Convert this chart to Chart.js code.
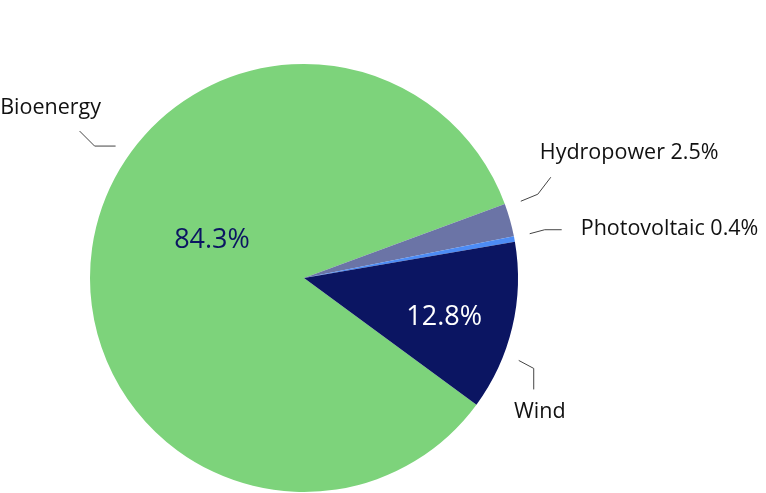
<!DOCTYPE html>
<html>
<head>
<meta charset="utf-8">
<script src="https://cdn.jsdelivr.net/npm/chart.js@4.4.1/dist/chart.umd.min.js"></script>
<style>
  html, body { margin: 0; padding: 0; background: #fff; }
  #wrap { width: 766px; height: 493px; position: relative; }
</style>
</head>
<body>
<div id="wrap"><canvas id="c"></canvas></div>
<script>
const FONT = "'Open Sans', Lato, sans-serif";

const categories = ['Bioenergy', 'Hydropower', 'Photovoltaic', 'Wind'];
const shares = [84.3, 2.5, 0.4, 12.8];
const colors = ['#7dd37b', '#6b74a6', '#4d8cf5', '#0b1562'];

// outside labels: which angle (deg, canvas) the leader leaves the pie, then its path
const outside = [
  { angle: -145, path: [[-21, 0], [-15, -15]], text: 'Bioenergy', pct: false, dx: -29, dy: -23, align: 'center' },
  { angle: -19.5, path: [[17, -7], [13, -17]], text: 'Hydropower', pct: true, dx: -11, dy: -24, align: 'left' },
  { angle: -11.1, path: [[15, -4], [17, 0]], text: 'Photovoltaic', pct: true, dx: 19, dy: -1, align: 'left' },
  { angle: 21, path: [[15, 8], [0, 21]], text: 'Wind', pct: false, dx: 6, dy: 22, align: 'center' },
];
// inside labels: angle and distance as fraction of radius
const inside = [
  { i: 0, angle: -157.6, frac: 0.465, color: '#0b1562' },
  { i: 3, angle: 15.5, frac: 0.68, color: '#ffffff' },
];

const labelPlugin = {
  id: 'pieLabels',
  afterDraw(chart) {
    const arc = chart.getDatasetMeta(0).data[0];
    const { x: cx, y: cy, outerRadius: r } = arc;
    const ctx = chart.ctx;
    ctx.save();
    ctx.strokeStyle = '#444';
    ctx.lineWidth = 1;
    ctx.fillStyle = '#111';
    ctx.textBaseline = 'middle';
    ctx.font = `21.5px ${FONT}`;
    outside.forEach((o) => {
      const a = o.angle * Math.PI / 180;
      let x = cx + (r + 16) * Math.cos(a);
      let y = cy + (r + 16) * Math.sin(a);
      ctx.beginPath();
      ctx.moveTo(x, y);
      o.path.forEach(([px, py]) => { x += px; y += py; ctx.lineTo(x, y); });
      ctx.stroke();
      const i = categories.indexOf(o.text);
      const str = o.pct ? `${o.text} ${shares[i].toFixed(1)}%` : o.text;
      ctx.textAlign = o.align;
      ctx.fillText(str, x + o.dx, y + o.dy);
    });
    ctx.font = `27px ${FONT}`;
    ctx.textAlign = 'center';
    inside.forEach((o) => {
      const a = o.angle * Math.PI / 180;
      ctx.fillStyle = o.color;
      ctx.fillText(`${shares[o.i].toFixed(1)}%`, cx + r * o.frac * Math.cos(a), cy + r * o.frac * Math.sin(a));
    });
    ctx.restore();
  },
};

new Chart(document.getElementById('c'), {
  type: 'pie',
  data: {
    labels: categories,
    datasets: [{ data: shares, backgroundColor: colors, borderWidth: 0 }],
  },
  options: {
    responsive: true,
    maintainAspectRatio: false,
    animation: false,
    rotation: 126.3,
    layout: { padding: { top: 64, bottom: 1, left: 90, right: 248 } },
    plugins: { legend: { display: false }, tooltip: { enabled: false } },
  },
  plugins: [labelPlugin],
});
</script>
</body>
</html>
